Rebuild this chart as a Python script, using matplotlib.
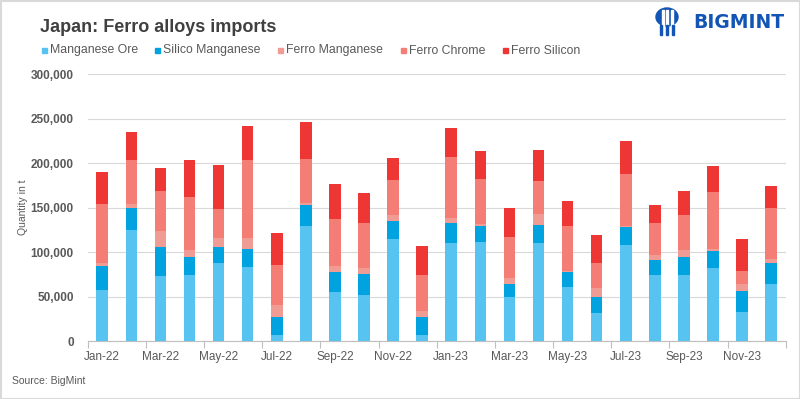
import matplotlib
matplotlib.use("Agg")
import matplotlib.pyplot as plt
from matplotlib.patches import Rectangle, Circle, Ellipse
import numpy as np

months = ["Jan-22","Feb-22","Mar-22","Apr-22","May-22","Jun-22","Jul-22","Aug-22","Sep-22","Oct-22","Nov-22","Dec-22",
          "Jan-23","Feb-23","Mar-23","Apr-23","May-23","Jun-23","Jul-23","Aug-23","Sep-23","Oct-23","Nov-23","Dec-23"]
manganese_ore = [57700,124500,73600,74700,87200,83800,6800,129100,55500,52100,114300,6800,
                 109800,110900,49800,109800,61100,31700,107500,74700,74700,82600,32800,64500]
silico_manganese = [27200,24900,31700,19300,18100,19200,20400,23700,22600,23700,20400,20400,
                    22700,18200,14700,20400,17000,18100,20400,15900,19300,18200,23800,23800]
ferro_manganese = [3400,4900,18100,7900,10200,12500,13600,2300,6800,6800,6800,6800,
                   5600,2200,6800,12400,1100,10200,1200,5600,7900,2200,7900,4500]
ferro_chrome = [65700,49500,45300,60000,32800,88300,45200,49800,52100,49900,39600,40700,
                69100,51000,45300,37400,49900,28300,58800,36300,39600,64500,14700,56600]
ferro_silicon = [36200,31700,26000,41900,49800,38500,35100,41900,39600,33900,24900,31700,
                 32800,31700,32800,35100,28300,30600,37400,20300,27200,29500,35100,24900]

series = [
    ("Manganese Ore", manganese_ore, "#56C3F0"),
    ("Silico Manganese", silico_manganese, "#00A2E0"),
    ("Ferro Manganese", ferro_manganese, "#F19B95"),
    ("Ferro Chrome", ferro_chrome, "#F47E76"),
    ("Ferro Silicon", ferro_silicon, "#EE3734"),
]

plt.rcParams['font.family'] = ['Liberation Sans Narrow', 'Liberation Sans', 'DejaVu Sans']

W, H = 800, 399
fig = plt.figure(figsize=(W/100, H/100), dpi=100)
ax = fig.add_axes([87.7/W, (H-341)/H, (785.7-87.7)/W, (341-74.3)/H])

x = np.arange(len(months))
bottom = np.zeros(len(months))
for name, vals, col in series:
    v = np.array(vals, dtype=float)
    ax.bar(x, v, width=0.4, bottom=bottom, color=col, zorder=3, linewidth=0)
    bottom += v

ax.set_xlim(-0.5, len(months) - 0.5)
ax.set_ylim(0, 300000)
ax.set_yticks(np.arange(0, 300001, 50000))
ax.set_yticklabels([f"{v:,}" for v in range(0, 300001, 50000)], fontsize=8.5,
                   fontweight='bold', color='#595959', family=['Liberation Sans', 'DejaVu Sans'])
ax.grid(axis='y', color='#d9d9d9', linewidth=0.8, zorder=0)
ax.tick_params(axis='y', length=0, pad=10)

ax.set_xticks(x[::2])
ax.set_xticklabels(months[::2], fontsize=8.5, color='#595959')
ax.set_xticks(np.arange(-0.5, len(months), 2), minor=True)
ax.tick_params(axis='x', which='major', length=0, pad=7)
ax.tick_params(axis='x', which='minor', length=5, color='#bfbfbf', width=0.8)

for s in ['top', 'right', 'left']:
    ax.spines[s].set_visible(False)
ax.spines['bottom'].set_color('#bfbfbf')
ax.spines['bottom'].set_linewidth(0.8)

ax.set_ylabel("Quantity in t", fontsize=7.5, color='#595959', labelpad=2)

# Title
fig.text(40/W, 1 - 27/H, "Japan: Ferro alloys imports", fontsize=13, fontweight='bold',
         color='#404040', va='center', ha='left')

# Legend
leg_x = [42, 155, 278, 401, 503]
for (name, vals, col), lx in zip(series, leg_x):
    fig.patches.append(Rectangle((lx/W, 1 - 53/H), 5/W, 5/H, transform=fig.transFigure,
                                 color=col, figure=fig))
    fig.text((lx + 8)/W, 1 - 50.5/H, name, fontsize=8.8, color='#595959', va='center', ha='left')

# Source
fig.text(12/W, 1 - 381/H, "Source: BigMint", fontsize=7.5, color='#595959', va='center', ha='left')

# Logo
fig.text(784/W, 1 - 22/H, "BIGMINT", fontsize=13.5, fontweight='bold', color='#1255B5',
         va='center', ha='right', family=['DejaVu Sans'])
fig.patches.append(Ellipse((667/W, 1 - 17/H), 22/W, 18/H, transform=fig.transFigure,
                           color='#1255B5', figure=fig))
for dx in (-4.5, 0, 4.5):
    fig.patches.append(Rectangle(((667 + dx - 1)/W, 1 - 26/H), 2/W, 16/H,
                                 transform=fig.transFigure, color='white', figure=fig))
for dx in (-6, 0, 6):
    fig.patches.append(Rectangle(((667 + dx - 1.3)/W, 1 - 35/H), 2.6/W, 10/H,
                                 transform=fig.transFigure, color='#1255B5', figure=fig))

# Border
fig.patches.append(Rectangle((0.5/W, 0.5/H), 1 - 1/W, 1 - 1/H, transform=fig.transFigure,
                             fill=False, edgecolor='#d9d9d9', linewidth=1.5, figure=fig))

fig.savefig("out.png", dpi=100)
